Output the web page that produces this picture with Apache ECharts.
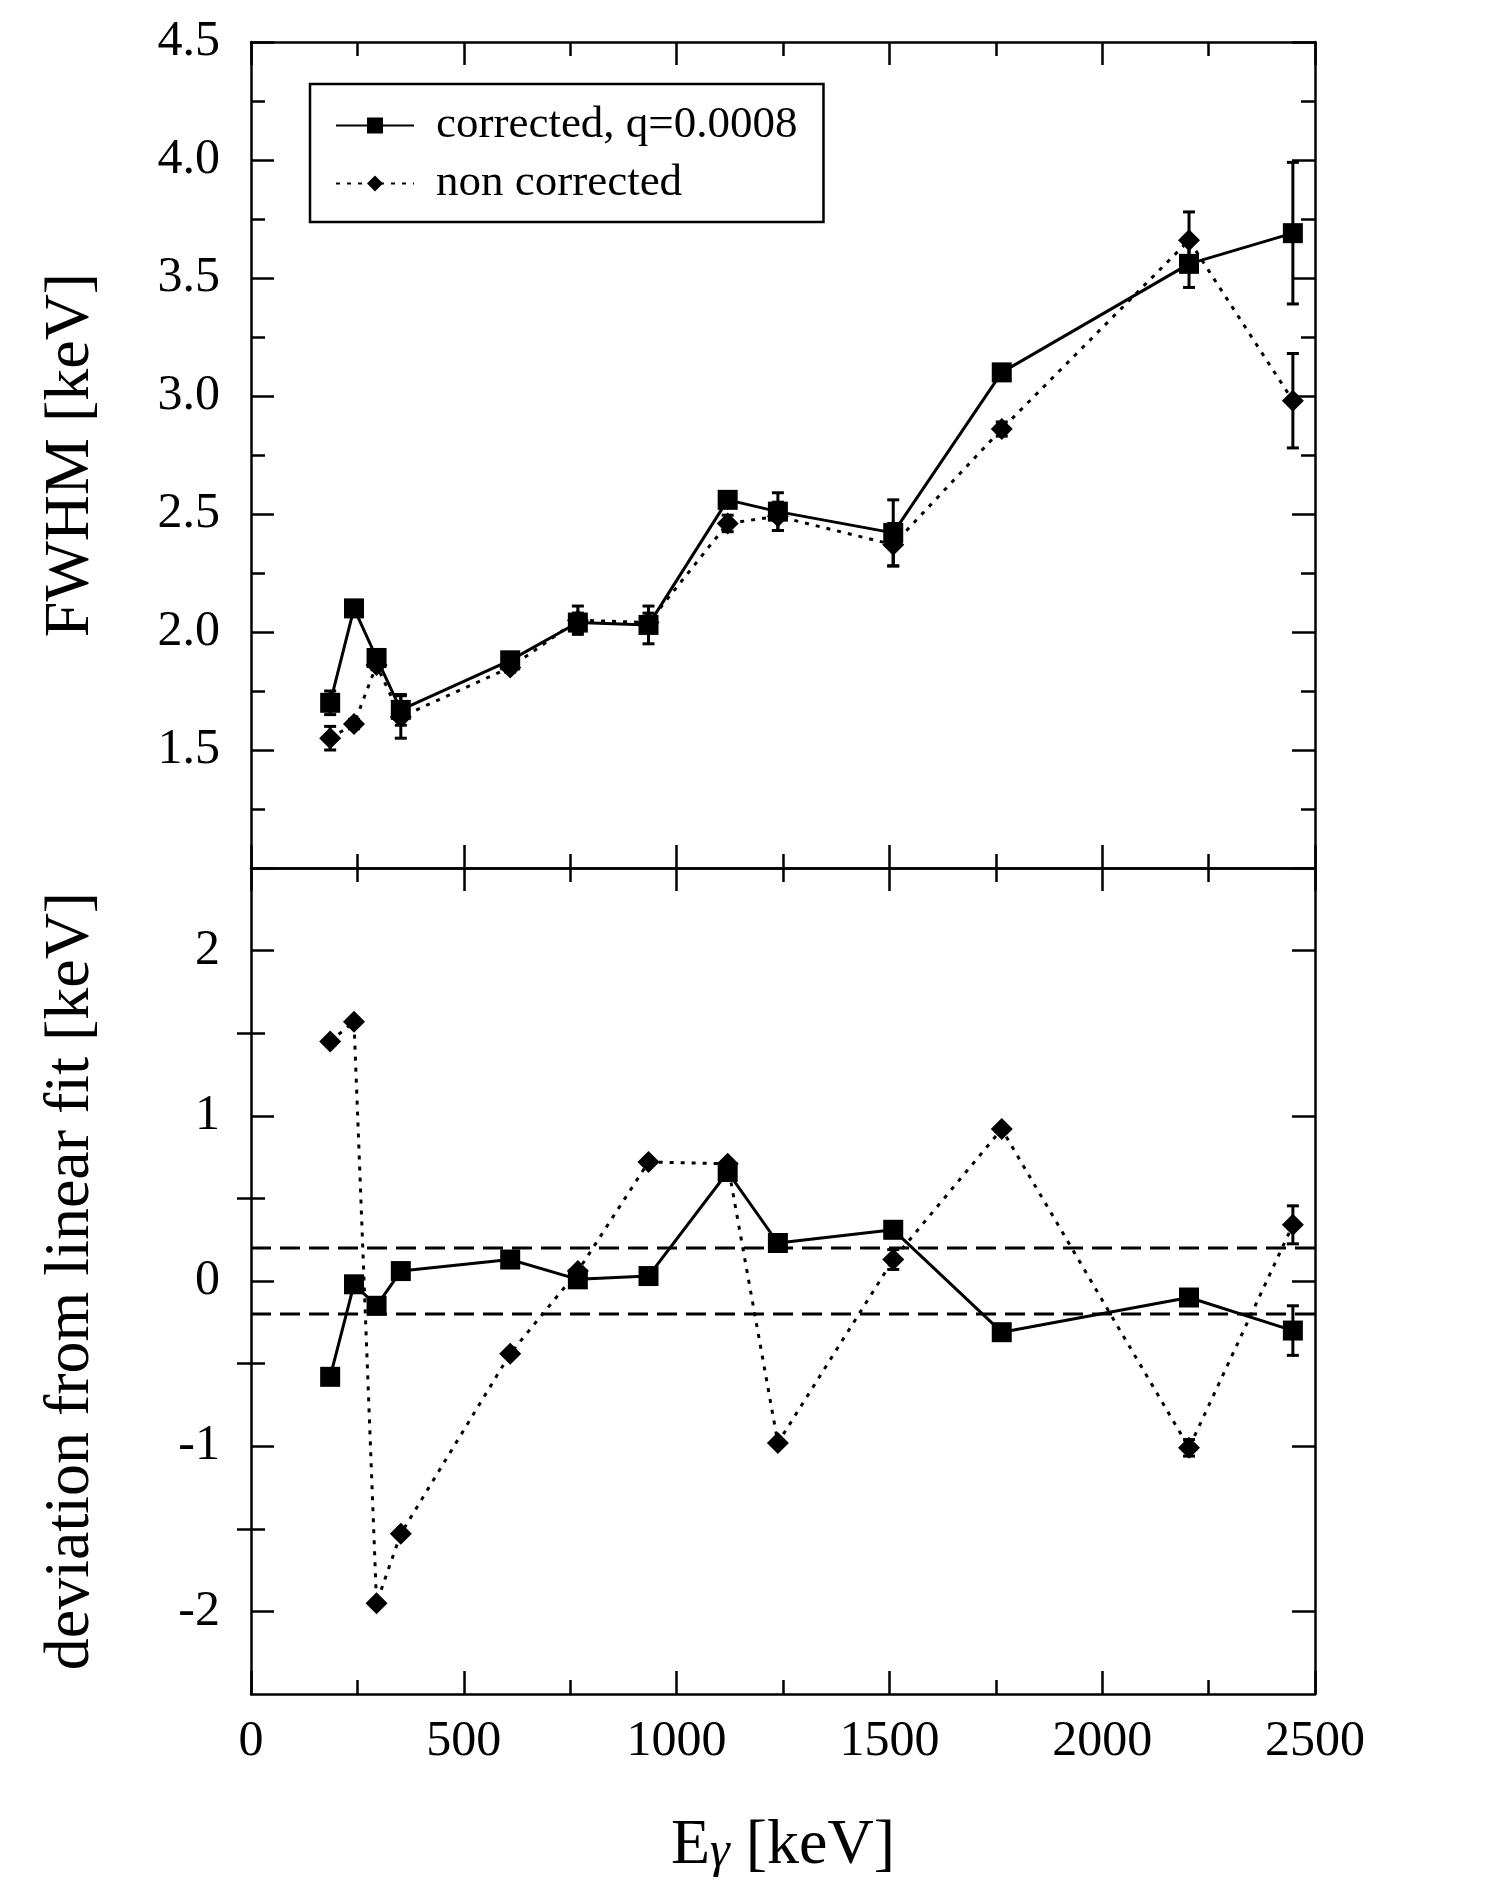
<!DOCTYPE html>
<html>
<head>
<meta charset="utf-8">
<script src="https://cdn.jsdelivr.net/npm/echarts@6/dist/echarts.min.js"></script>
<style>
  html, body { margin: 0; padding: 0; background: #fff; }
  #chart { width: 1487px; height: 1900px; }
</style>
</head>
<body>
<div id="chart"></div>
<script>
// gamma lines (keV)
const energies = [186, 242, 295, 352, 609, 768, 934, 1120, 1238, 1509, 1764, 2204, 2448];

// FWHM [keV]
const fwhmCorr    = [1.70, 2.10, 1.89, 1.67, 1.88, 2.04, 2.03, 2.56, 2.51, 2.42, 3.10, 3.56, 3.69];
const fwhmCorrErr = [0.05, 0.02, 0.02, 0.065, 0.02, 0.04, 0.08, 0.02, 0.08, 0.14, 0.03, 0.10, 0.30];
const fwhmRaw     = [1.55, 1.61, 1.86, 1.64, 1.85, 2.05, 2.04, 2.46, 2.49, 2.37, 2.86, 3.66, 2.98];
const fwhmRawErr  = [0.05, 0.02, 0.02, 0.09, 0.02, 0.06, 0.04, 0.035, 0.06, 0.09, 0.03, 0.12, 0.20];

// deviation from linear fit [keV]
const devCorr    = [-0.58, -0.02, -0.15, 0.06, 0.13, 0.01, 0.03, 0.66, 0.23, 0.31, -0.31, -0.10, -0.30];
const devCorrErr = [0.02, 0.02, 0.02, 0.02, 0.02, 0.02, 0.02, 0.02, 0.02, 0.02, 0.02, 0.02, 0.15];
const devRaw     = [1.45, 1.57, -1.95, -1.53, -0.44, 0.06, 0.72, 0.71, -0.98, 0.13, 0.92, -1.01, 0.34];
const devRawErr  = [0.02, 0.02, 0.02, 0.02, 0.02, 0.02, 0.02, 0.02, 0.02, 0.06, 0.02, 0.05, 0.115];

const bandLimits = [0.2, -0.2];
const devTicks = [-2, -1, 0, 1, 2];
const devMinorTicks = [-1.5, -0.5, 0.5, 1.5];

const FONT = 'Liberation Serif';
const nameCorr = 'corrected, q=0.0008';
const nameRaw = 'non corrected';

function pairs(ys) {
  return energies.map((e, i) => [e, ys[i]]);
}
function triples(ys, errs) {
  return energies.map((e, i) => [e, ys[i], errs[i]]);
}

function errorBar(params, api) {
  const x = api.value(0), y = api.value(1), err = api.value(2);
  const hi = api.coord([x, y + err]);
  const lo = api.coord([x, y - err]);
  const w = 6;
  const st = { stroke: '#000', lineWidth: 3 };
  return {
    type: 'group',
    children: [
      { type: 'line', shape: { x1: hi[0], y1: hi[1], x2: lo[0], y2: lo[1] }, style: st },
      { type: 'line', shape: { x1: hi[0] - w, y1: hi[1], x2: hi[0] + w, y2: hi[1] }, style: st },
      { type: 'line', shape: { x1: lo[0] - w, y1: lo[1], x2: lo[0] + w, y2: lo[1] }, style: st }
    ]
  };
}

const axisLine = { show: true, onZero: false, lineStyle: { color: '#000', width: 2.5 } };
const tick = { show: true, inside: true, length: 23, lineStyle: { color: '#000', width: 2.5 } };
const minor = { show: true, splitNumber: 2, length: 14, lineStyle: { color: '#000', width: 2.5 } };
const noLabel = { show: false };
const noSplit = { show: false };

function xAx(grid, pos, labels) {
  let ax = {
    type: 'value', gridIndex: grid, position: pos,
    min: 0, max: 2500, interval: 500,
    axisLine: axisLine, axisTick: tick, minorTick: minor,
    splitLine: noSplit,
    axisLabel: labels ? {
      show: true, margin: 23, fontSize: 50, fontFamily: FONT, color: '#000',
      formatter: v => String(v)
    } : noLabel
  };
  return ax;
}

let chart = echarts.init(document.getElementById('chart'), null, { renderer: 'canvas' });

let option = {
  animation: false,
  backgroundColor: '#fff',
  textStyle: { fontFamily: FONT, color: '#000' },
  grid: [
    { left: 251, top: 42, width: 1064, height: 826, outerBoundsMode: 'none' },
    { left: 251, top: 868, width: 1064, height: 826, outerBoundsMode: 'none' }
  ],
  legend: {
    left: 310, top: 84,
    orient: 'vertical',
    data: [nameCorr, nameRaw],
    itemWidth: 78, itemHeight: 20, itemGap: 13,
    padding: [19, 26, 16, 25],
    borderColor: '#000', borderWidth: 2.5,
    textStyle: { fontSize: 45, fontFamily: FONT, color: '#000', padding: [0, 0, 0, 17] },
    selectedMode: false
  },
  xAxis: [
    xAx(0, 'bottom', false),
    xAx(0, 'top', false),
    Object.assign(xAx(1, 'bottom', true), {
      name: '{e|E}{g|γ}{t| [keV]}',
      nameLocation: 'middle',
      nameGap: 120,
      nameTextStyle: {
        fontFamily: FONT, color: '#000', fontSize: 64,
        rich: {
          e: { fontSize: 64, lineHeight: 64, fontFamily: FONT, color: '#000' },
          g: { fontSize: 50, lineHeight: 50, verticalAlign: 'bottom', fontStyle: 'italic', fontFamily: FONT, color: '#000' },
          t: { fontSize: 64, lineHeight: 64, fontFamily: FONT, color: '#000' }
        }
      }
    }),
    xAx(1, 'top', false)
  ],
  yAxis: [
    {
      type: 'value', gridIndex: 0, position: 'left',
      min: 1.0, max: 4.5, interval: 0.5,
      axisLine: axisLine, axisTick: tick, minorTick: minor, splitLine: noSplit,
      axisLabel: {
        show: true, margin: 31, fontSize: 50, fontFamily: FONT, color: '#000',
        formatter: v => (v <= 1.0 ? '' : v.toFixed(1))
      },
      name: 'FWHM [keV]', nameLocation: 'middle', nameGap: 148,
      nameTextStyle: { fontSize: 64, fontFamily: FONT, color: '#000' }
    },
    {
      type: 'value', gridIndex: 0, position: 'right',
      min: 1.0, max: 4.5, interval: 0.5,
      axisLine: axisLine, axisTick: tick, minorTick: minor, splitLine: noSplit,
      axisLabel: noLabel
    },
    {
      type: 'value', gridIndex: 1, position: 'left',
      min: -2.5, max: 2.5,
      axisLine: axisLine,
      axisTick: Object.assign({}, tick, { customValues: devTicks }),
      splitLine: noSplit,
      axisLabel: {
        show: true, margin: 31, fontSize: 50, fontFamily: FONT, color: '#000',
        customValues: devTicks
      },
      name: 'deviation from linear fit [keV]', nameLocation: 'middle', nameGap: 148,
      nameTextStyle: { fontSize: 64, fontFamily: FONT, color: '#000' }
    },
    {
      type: 'value', gridIndex: 1, position: 'right',
      min: -2.5, max: 2.5,
      axisLine: axisLine,
      axisTick: Object.assign({}, tick, { customValues: devTicks }),
      splitLine: noSplit,
      axisLabel: { show: false, customValues: devTicks }
    },
    {
      type: 'value', gridIndex: 1, position: 'left',
      min: -2.5, max: 2.5,
      axisLine: { show: false },
      axisTick: Object.assign({}, tick, { length: 14, customValues: devMinorTicks }),
      splitLine: noSplit,
      axisLabel: { show: false, customValues: devMinorTicks }
    },
    {
      type: 'value', gridIndex: 1, position: 'right',
      min: -2.5, max: 2.5,
      axisLine: { show: false },
      axisTick: Object.assign({}, tick, { length: 14, customValues: devMinorTicks }),
      splitLine: noSplit,
      axisLabel: { show: false, customValues: devMinorTicks }
    }
  ],
  series: [
    // band lines in lower panel
    ...bandLimits.map(b => ({
      type: 'line', xAxisIndex: 2, yAxisIndex: 2,
      data: [[0, b], [2500, b]],
      symbol: 'none', silent: true, z: 1,
      lineStyle: { color: '#000', width: 3, type: [20, 9] }
    })),
    // upper panel
    {
      type: 'custom', xAxisIndex: 0, yAxisIndex: 0, z: 1,
      renderItem: errorBar, data: triples(fwhmRaw, fwhmRawErr)
    },
    {
      type: 'custom', xAxisIndex: 0, yAxisIndex: 0, z: 1,
      renderItem: errorBar, data: triples(fwhmCorr, fwhmCorrErr)
    },
    {
      name: nameRaw, type: 'line', xAxisIndex: 0, yAxisIndex: 0,
      data: pairs(fwhmRaw),
      symbol: 'diamond', symbolSize: 22,
      lineStyle: { color: '#000', width: 3, type: [4, 7] },
      itemStyle: { color: '#000' }
    },
    {
      name: nameCorr, type: 'line', xAxisIndex: 0, yAxisIndex: 0,
      data: pairs(fwhmCorr),
      symbol: 'rect', symbolSize: 20,
      lineStyle: { color: '#000', width: 3, type: 'solid' },
      itemStyle: { color: '#000' }
    },
    // lower panel
    {
      type: 'custom', xAxisIndex: 2, yAxisIndex: 2, z: 1,
      renderItem: errorBar, data: triples(devRaw, devRawErr)
    },
    {
      type: 'custom', xAxisIndex: 2, yAxisIndex: 2, z: 1,
      renderItem: errorBar, data: triples(devCorr, devCorrErr)
    },
    {
      name: nameRaw, type: 'line', xAxisIndex: 2, yAxisIndex: 2,
      data: pairs(devRaw),
      symbol: 'diamond', symbolSize: 22,
      lineStyle: { color: '#000', width: 3, type: [4, 7] },
      itemStyle: { color: '#000' }
    },
    {
      name: nameCorr, type: 'line', xAxisIndex: 2, yAxisIndex: 2,
      data: pairs(devCorr),
      symbol: 'rect', symbolSize: 20,
      lineStyle: { color: '#000', width: 3, type: 'solid' },
      itemStyle: { color: '#000' }
    }
  ]
};

chart.setOption(option);
</script>
</body>
</html>
